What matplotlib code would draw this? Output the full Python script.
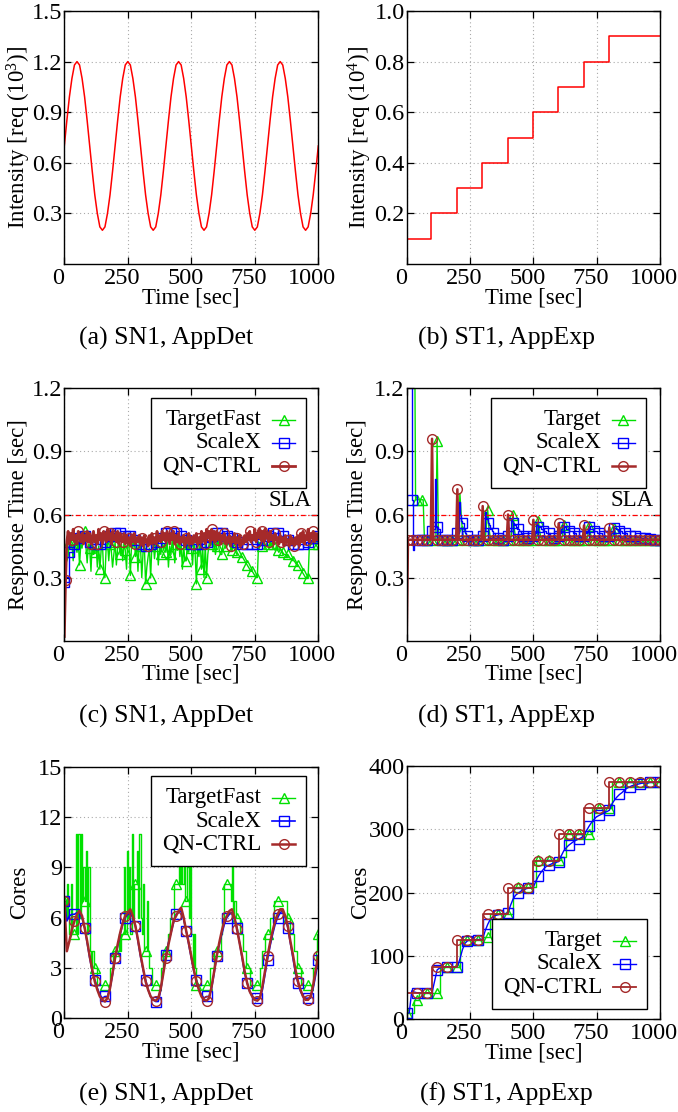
import numpy as np
import matplotlib
matplotlib.use("Agg")
import matplotlib.pyplot as plt
import matplotlib.transforms as mtransforms
from matplotlib.offsetbox import AnchoredOffsetbox, VPacker, HPacker, TextArea, DrawingArea
from matplotlib.lines import Line2D

plt.rcParams['font.family'] = ['Liberation Serif', 'DejaVu Serif']
plt.rcParams['mathtext.fontset'] = 'custom'
plt.rcParams['mathtext.rm'] = 'Liberation Serif'
plt.rcParams['mathtext.it'] = 'Liberation Serif:italic'

RED = '#ff0000'
GREEN = '#00e000'
BLUE = '#0000ff'
BROWN = '#a52a2a'

time_ticks = [0, 250, 500, 750, 1000]

# (a) SN1 intensity, one value every 10 s
intensity_sn1 = [
    0.70, 0.85, 0.99, 1.10, 1.18, 1.20, 1.18, 1.10, 0.99, 0.85, 0.70, 0.55, 0.41, 0.30, 0.22, 0.20, 0.22, 0.30, 0.41, 0.55,
    0.70, 0.85, 0.99, 1.10, 1.18, 1.20, 1.18, 1.10, 0.99, 0.85, 0.70, 0.55, 0.41, 0.30, 0.22, 0.20, 0.22, 0.30, 0.41, 0.55,
    0.70, 0.85, 0.99, 1.10, 1.18, 1.20, 1.18, 1.10, 0.99, 0.85, 0.70, 0.55, 0.41, 0.30, 0.22, 0.20, 0.22, 0.30, 0.41, 0.55,
    0.70, 0.85, 0.99, 1.10, 1.18, 1.20, 1.18, 1.10, 0.99, 0.85, 0.70, 0.55, 0.41, 0.30, 0.22, 0.20, 0.22, 0.30, 0.41, 0.55,
    0.70, 0.85, 0.99, 1.10, 1.18, 1.20, 1.18, 1.10, 0.99, 0.85, 0.70, 0.55, 0.41, 0.30, 0.22, 0.20, 0.22, 0.30, 0.41, 0.55,
    0.70,
]

# (b) ST1 intensity steps
step_times_st1 = [0, 97, 199, 299, 399, 499, 599, 699, 798, 1000]
intensity_st1 = [0.1, 0.2, 0.3, 0.4, 0.5, 0.6, 0.7, 0.8, 0.9, 0.9]

nan = float('nan')

# (c) SN1 response time, every 5 s
target_rt_sn1 = [
    nan, nan, 0.38, 0.40, 0.47, 0.44, 0.46, 0.38, 0.48, 0.45, 0.42, 0.47, 0.36, 0.46, 0.44, 0.49, 0.52, 0.45, 0.37, 0.46,
    0.44, 0.33, 0.47, 0.41, 0.42, 0.46, 0.35, 0.45, 0.34, 0.43, 0.47, 0.32, 0.30, 0.45, 0.47, 0.38, 0.46, 0.43, 0.35, 0.41,
    0.47, 0.36, 0.44, 0.48, 0.41, 0.46, 0.38, 0.47, 0.43, 0.34, 0.48, 0.45, 0.31, 0.47, 0.44, 0.49, 0.40, 0.46, 0.33, 0.47,
    0.45, 0.30, 0.42, 0.46, 0.27, 0.35, 0.40, 0.44, 0.30, 0.46, 0.48, 0.39, 0.45, 0.47, 0.36, 0.44, 0.41, 0.48, 0.43, 0.46,
    0.42, 0.47, 0.35, 0.45, 0.41, 0.48, 0.44, 0.37, 0.46, 0.43, 0.49, 0.40, 0.46, 0.34, 0.45, 0.38, 0.38, 0.47, 0.42, 0.48,
    0.44, 0.36, 0.47, 0.42, 0.27, 0.45, 0.40, 0.47, 0.34, 0.44, 0.30, 0.46, 0.30, 0.41, 0.46, 0.48, 0.46, 0.44, 0.47, 0.41,
    0.45, 0.48, 0.43, 0.41, 0.41, 0.46, 0.47, 0.44, 0.45, 0.47, 0.46, 0.48, 0.43, 0.45, 0.46, 0.44, 0.42, 0.41, 0.40, 0.40,
    0.40, 0.39, 0.38, 0.37, 0.36, 0.35, 0.34, 0.33, 0.33, 0.32, 0.31, 0.30, 0.30, 0.47, 0.46, 0.47, 0.45, 0.46, 0.44, 0.45,
    0.46, 0.44, 0.47, 0.45, 0.46, 0.44, 0.43, 0.45, 0.43, 0.42, 0.44, 0.43, 0.42, 0.41, 0.41, 0.40, 0.41, 0.40, 0.39, 0.39,
    0.38, 0.38, 0.37, 0.36, 0.36, 0.35, 0.34, 0.33, 0.32, 0.31, 0.30, 0.30, 0.30, 0.46, 0.46, 0.46, 0.46, 0.46, 0.46, 0.46,
    0.46,
]
# every 10 s
scalex_rt_sn1 = [
    0.28, 0.28, 0.42, 0.42, 0.46, 0.47, 0.49, 0.50, 0.50, 0.49,
    0.47, 0.46, 0.46, 0.46, 0.46, 0.46, 0.47, 0.48, 0.50, 0.51,
    0.51, 0.51, 0.51, 0.51, 0.50, 0.51, 0.50, 0.49, 0.48, 0.47,
    0.46, 0.46, 0.45, 0.46, 0.46, 0.46, 0.47, 0.48, 0.49, 0.50,
    0.51, 0.51, 0.51, 0.51, 0.51, 0.50, 0.50, 0.49, 0.48, 0.47,
    0.46, 0.46, 0.46, 0.46, 0.46, 0.47, 0.47, 0.48, 0.50, 0.51,
    0.51, 0.51, 0.51, 0.51, 0.50, 0.50, 0.49, 0.48, 0.47, 0.47,
    0.46, 0.46, 0.46, 0.46, 0.46, 0.46, 0.46, 0.47, 0.48, 0.49,
    0.50, 0.51, 0.51, 0.51, 0.51, 0.50, 0.50, 0.49, 0.48, 0.47,
    0.46, 0.46, 0.46, 0.46, 0.46, 0.47, 0.47, 0.48, 0.49, 0.50,
    0.50,
]
# every 5 s
qn_rt_sn1 = [
    0.02, 0.29, 0.47, 0.52, 0.46, 0.51, 0.48, 0.53, 0.47, 0.50, 0.46, 0.52, 0.49, 0.47, 0.51, 0.46, 0.50, 0.48, 0.52, 0.47,
    0.51, 0.46, 0.49, 0.52, 0.47, 0.50, 0.46, 0.53, 0.48, 0.51, 0.46, 0.52, 0.49, 0.47, 0.53, 0.48, 0.51, 0.46, 0.52, 0.48,
    0.50, 0.47, 0.52, 0.46, 0.51, 0.48, 0.47, 0.51, 0.46, 0.50, 0.47, 0.49, 0.45, 0.50, 0.47, 0.51, 0.46, 0.49, 0.47, 0.50,
    0.46, 0.49, 0.45, 0.50, 0.47, 0.48, 0.45, 0.50, 0.46, 0.51, 0.47, 0.49, 0.46, 0.52, 0.48, 0.50, 0.47, 0.52, 0.48, 0.51,
    0.47, 0.52, 0.49, 0.46, 0.51, 0.48, 0.52, 0.46, 0.50, 0.47, 0.51, 0.46, 0.49, 0.47, 0.50, 0.45, 0.49, 0.47, 0.51, 0.46,
    0.49, 0.46, 0.50, 0.47, 0.51, 0.46, 0.49, 0.47, 0.52, 0.48, 0.51, 0.46, 0.53, 0.49, 0.52, 0.47, 0.53, 0.48, 0.52, 0.47,
    0.52, 0.48, 0.51, 0.46, 0.50, 0.48, 0.51, 0.46, 0.49, 0.47, 0.50, 0.45, 0.49, 0.47, 0.51, 0.46, 0.49, 0.47, 0.50, 0.45,
    0.48, 0.46, 0.50, 0.47, 0.51, 0.48, 0.52, 0.47, 0.50, 0.48, 0.53, 0.47, 0.51, 0.49, 0.53, 0.48, 0.52, 0.47, 0.53, 0.49,
    0.51, 0.47, 0.52, 0.48, 0.50, 0.46, 0.51, 0.48, 0.49, 0.46, 0.50, 0.47, 0.49, 0.45, 0.50, 0.47, 0.48, 0.45, 0.50, 0.46,
    0.48, 0.45, 0.49, 0.46, 0.50, 0.45, 0.51, 0.47, 0.52, 0.46, 0.50, 0.48, 0.53, 0.47, 0.51, 0.49, 0.52, 0.47, 0.51, 0.48,
    0.50,
]

# (d) ST1 response time, every 5 s
target_rt_st1 = [
    nan, nan, nan, nan, nan, nan, 1.80, 0.67, 0.67, 0.67, 0.67, 0.67, 0.67, 0.67, 0.48, 0.48, 0.48, 0.48, 0.48, 0.48,
    0.48, 0.48, 0.48, 0.48, 0.95, 0.52, 0.48, 0.48, 0.48, 0.48, 0.48, 0.48, 0.48, 0.48, 0.48, 0.48, 0.48, 0.48, 0.48, 0.48,
    0.48, 0.48, 0.70, 0.60, 0.52, 0.48, 0.48, 0.48, 0.48, 0.48, 0.48, 0.48, 0.48, 0.48, 0.48, 0.48, 0.48, 0.48, 0.48, 0.48,
    0.48, 0.48, 0.48, 0.55, 0.62, 0.53, 0.49, 0.48, 0.48, 0.48, 0.48, 0.48, 0.48, 0.48, 0.48, 0.48, 0.48, 0.48, 0.48, 0.48,
    0.48, 0.48, 0.48, 0.52, 0.60, 0.53, 0.49, 0.48, 0.48, 0.48, 0.48, 0.48, 0.48, 0.48, 0.48, 0.48, 0.48, 0.48, 0.48, 0.48,
    0.48, 0.48, 0.48, 0.50, 0.57, 0.52, 0.49, 0.48, 0.48, 0.48, 0.48, 0.48, 0.48, 0.48, 0.48, 0.48, 0.48, 0.48, 0.48, 0.48,
    0.48, 0.48, 0.48, 0.50, 0.55, 0.51, 0.49, 0.48, 0.48, 0.48, 0.48, 0.48, 0.48, 0.48, 0.48, 0.48, 0.48, 0.48, 0.48, 0.48,
    0.48, 0.48, 0.48, 0.50, 0.545, 0.51, 0.49, 0.48, 0.48, 0.48, 0.48, 0.48, 0.48, 0.48, 0.48, 0.48, 0.48, 0.48, 0.48, 0.48,
    0.48, 0.48, 0.48, 0.50, 0.535, 0.51, 0.49, 0.48, 0.48, 0.48, 0.48, 0.48, 0.48, 0.48, 0.48, 0.48, 0.48, 0.48, 0.48, 0.48,
    0.48, 0.48, 0.48, 0.48, 0.48, 0.48, 0.48, 0.48, 0.48, 0.48, 0.48, 0.48, 0.48, 0.48, 0.48, 0.48, 0.48, 0.48, 0.48, 0.48,
    0.48,
]
scalex_rt_st1 = [
    nan, nan, nan, 1.80, 0.67, 0.43, 0.48, 0.48, 0.48, 0.48, 0.48, 0.48, 0.48, 0.48, 0.48, 0.48, 0.48, 0.48, 0.50, 0.52,
    0.52, 0.53, 0.77, 0.54, 0.54, 0.53, 0.50, 0.49, 0.48, 0.48, 0.48, 0.48, 0.48, 0.48, 0.48, 0.48, 0.48, 0.48, 0.49, 0.50,
    0.51, 0.66, 0.60, 0.57, 0.56, 0.53, 0.51, 0.50, 0.50, 0.49, 0.49, 0.48, 0.48, 0.48, 0.48, 0.48, 0.48, 0.48, 0.49, 0.49,
    0.50, 0.52, 0.61, 0.58, 0.56, 0.55, 0.53, 0.52, 0.51, 0.51, 0.50, 0.50, 0.49, 0.49, 0.49, 0.48, 0.48, 0.48, 0.49, 0.49,
    0.50, 0.52, 0.58, 0.57, 0.56, 0.55, 0.54, 0.53, 0.53, 0.52, 0.51, 0.51, 0.50, 0.50, 0.50, 0.49, 0.49, 0.49, 0.49, 0.49,
    0.50, 0.51, 0.56, 0.55, 0.54, 0.54, 0.53, 0.53, 0.52, 0.52, 0.51, 0.51, 0.51, 0.50, 0.50, 0.50, 0.49, 0.49, 0.49, 0.49,
    0.50, 0.51, 0.53, 0.55, 0.54, 0.54, 0.53, 0.53, 0.52, 0.52, 0.52, 0.51, 0.51, 0.51, 0.50, 0.50, 0.50, 0.50, 0.49, 0.49,
    0.50, 0.51, 0.52, 0.545, 0.54, 0.53, 0.53, 0.52, 0.52, 0.52, 0.51, 0.51, 0.51, 0.51, 0.50, 0.50, 0.50, 0.50, 0.49, 0.49,
    0.50, 0.51, 0.52, 0.54, 0.535, 0.53, 0.53, 0.52, 0.52, 0.52, 0.51, 0.51, 0.51, 0.51, 0.50, 0.50, 0.50, 0.50, 0.50, 0.50,
    0.50, 0.50, 0.495, 0.495, 0.49, 0.49, 0.49, 0.49, 0.49, 0.49, 0.485, 0.485, 0.485, 0.485, 0.485, 0.48, 0.48, 0.48, 0.48, 0.48,
    0.48,
]
qn_rt_st1 = [
    0.00, 0.48, 0.48, 0.48, 0.48, 0.48, 0.48, 0.48, 0.48, 0.48, 0.48, 0.48, 0.48, 0.48, 0.48, 0.48, 0.48, 0.48, 0.48, 0.48,
    0.96, 0.48, 0.48, 0.48, 0.48, 0.48, 0.48, 0.48, 0.48, 0.48, 0.48, 0.48, 0.48, 0.48, 0.48, 0.48, 0.48, 0.48, 0.48, 0.48,
    0.72, 0.48, 0.48, 0.48, 0.48, 0.48, 0.48, 0.48, 0.48, 0.48, 0.48, 0.48, 0.48, 0.48, 0.48, 0.48, 0.48, 0.48, 0.48, 0.48,
    0.64, 0.48, 0.48, 0.48, 0.48, 0.48, 0.48, 0.48, 0.48, 0.48, 0.48, 0.48, 0.48, 0.48, 0.48, 0.48, 0.48, 0.48, 0.48, 0.48,
    0.60, 0.48, 0.48, 0.48, 0.48, 0.48, 0.48, 0.48, 0.48, 0.48, 0.48, 0.48, 0.48, 0.48, 0.48, 0.48, 0.48, 0.48, 0.48, 0.48,
    0.575, 0.48, 0.48, 0.48, 0.48, 0.48, 0.48, 0.48, 0.48, 0.48, 0.48, 0.48, 0.48, 0.48, 0.48, 0.48, 0.48, 0.48, 0.48, 0.48,
    0.558, 0.48, 0.48, 0.48, 0.48, 0.48, 0.48, 0.48, 0.48, 0.48, 0.48, 0.48, 0.48, 0.48, 0.48, 0.48, 0.48, 0.48, 0.48, 0.48,
    0.548, 0.48, 0.48, 0.48, 0.48, 0.48, 0.48, 0.48, 0.48, 0.48, 0.48, 0.48, 0.48, 0.48, 0.48, 0.48, 0.48, 0.48, 0.48, 0.48,
    0.538, 0.48, 0.48, 0.48, 0.48, 0.48, 0.48, 0.48, 0.48, 0.48, 0.48, 0.48, 0.48, 0.48, 0.48, 0.48, 0.48, 0.48, 0.48, 0.48,
    0.48, 0.48, 0.48, 0.48, 0.48, 0.48, 0.48, 0.48, 0.48, 0.48, 0.48, 0.48, 0.48, 0.48, 0.48, 0.48, 0.48, 0.48, 0.48, 0.48,
    0.48,
]

# (e) SN1 cores; TargetFast every 5 s, ScaleX / QN-CTRL every 10 s
target_cores_sn1 = [
    7, 6, 8, 6, 5, 8, 5, 5, 5, 11, 5, 11, 6, 11, 7, 9, 7, 10, 5, 9,
    4, 3, 4, 3, 3, 3, 2, 2, 2, 2, 2, 2, 2, 2, 2, 2, 3, 3, 4, 4,
    4, 4, 4, 5, 4, 5, 5, 9, 5, 10, 6, 9, 5, 11, 6, 8, 8, 10, 6, 11,
    6, 5, 8, 4, 4, 7, 4, 3, 3, 2, 2, 2, 2, 2, 2, 2, 3, 3, 4, 4,
    4, 4, 5, 6, 6, 6, 8, 8, 8, 8, 9, 8, 10, 8, 9, 7, 7, 9, 6, 9,
    5, 3, 5, 3, 2, 2, 2, 2, 2, 2, 2, 2, 2, 2, 2, 3, 3, 3, 4, 4,
    4, 4, 4, 5, 6, 6, 8, 8, 8, 8, 8, 7, 9, 6, 7, 6, 6, 6, 5, 5,
    5, 4, 4, 3, 3, 3, 2, 2, 2, 2, 2, 2, 2, 2, 3, 3, 4, 4, 5, 5,
    5, 5, 6, 6, 6, 7, 7, 7, 7, 7, 7, 7, 7, 7, 7, 6, 6, 6, 5, 5,
    5, 4, 4, 3, 3, 3, 2, 2, 2, 2, 2, 2, 2, 2, 2, 2, 3, 3, 4, 5,
    5,
]
scalex_cores_sn1 = [
    7.0, 5.8, 6.1, 6.2, 6.2, 6.3, 6.3, 6.0, 5.4, 4.5, 3.6, 2.8, 2.3, 1.8, 1.4, 1.2, 1.3, 1.3, 1.8, 2.6,
    3.6, 4.3, 5.0, 5.6, 6.0, 6.2, 6.3, 6.0, 5.5, 4.6, 3.7, 2.9, 2.3, 1.7, 1.3, 1.1, 1.0, 1.0, 1.7, 2.8,
    3.8, 4.5, 5.1, 5.7, 6.2, 6.3, 6.4, 5.9, 5.2, 4.4, 3.6, 2.8, 2.3, 1.7, 1.4, 1.2, 1.3, 1.3, 1.8, 2.7,
    3.7, 4.4, 5.0, 5.6, 6.0, 6.2, 6.3, 6.0, 5.4, 4.5, 3.6, 2.7, 2.1, 1.6, 1.3, 1.2, 1.2, 1.2, 1.7, 2.6,
    3.5, 4.3, 5.0, 5.6, 6.0, 6.3, 6.4, 6.0, 5.4, 4.5, 3.6, 2.7, 2.1, 1.6, 1.3, 1.2, 1.2, 1.2, 1.8, 2.6,
    3.5,
]
qn_cores_sn1 = [
    7.0, 4.0, 4.6, 5.3, 5.8, 6.2, 6.4, 6.1, 5.4, 4.6, 3.7, 2.9, 2.2, 1.7, 1.3, 1.1, 1.0, 1.2, 1.8, 2.7,
    3.6, 4.4, 5.1, 5.7, 6.1, 6.3, 6.5, 6.1, 5.5, 4.7, 3.8, 3.0, 2.2, 1.7, 1.3, 1.1, 1.05, 1.2, 1.8, 2.7,
    3.6, 4.4, 5.1, 5.8, 6.1, 6.4, 6.6, 6.0, 5.2, 4.5, 3.7, 2.9, 2.2, 1.7, 1.3, 1.1, 1.05, 1.2, 1.9, 2.8,
    3.7, 4.5, 5.2, 5.8, 6.1, 6.4, 6.5, 6.0, 5.3, 4.5, 3.7, 2.8, 2.1, 1.6, 1.3, 1.1, 1.05, 1.2, 1.9, 2.8,
    3.7, 4.5, 5.2, 5.8, 6.2, 6.5, 6.5, 6.1, 5.5, 4.6, 3.8, 2.9, 2.2, 1.7, 1.3, 1.1, 1.1, 1.3, 2.0, 2.9,
    3.7,
]

# (f) ST1 cores, every 10 s
target_cores_st1 = [
    10, 10, 10, 31, 31, 42, 42, 42, 42, 42,
    42, 42, 42, 83, 83, 83, 83, 83, 83, 83,
    83, 125, 125, 125, 125, 125, 125, 125, 125, 125,
    130, 130, 130, 167, 167, 167, 167, 167, 167, 167,
    167, 167, 209, 209, 209, 209, 209, 209, 209, 209,
    209, 251, 251, 251, 251, 251, 251, 251, 251, 251,
    251, 257, 257, 292, 292, 292, 292, 292, 292, 292,
    292, 292, 292, 334, 334, 334, 334, 334, 334, 334,
    334, 375, 375, 375, 375, 375, 375, 375, 375, 375,
    375, 375, 375, 375, 375, 375, 375, 375, 375, 375,
    375,
]
scalex_cores_st1 = [
    10, 10, 45, 43, 42, 42, 42, 42, 42, 42,
    42, 60, 78, 81, 82, 83, 83, 83, 83, 83,
    83, 95, 110, 120, 124, 125, 126, 126, 126, 126,
    127, 140, 150, 158, 162, 164, 165, 166, 167, 167,
    168, 180, 190, 196, 199, 202, 205, 206, 207, 208,
    209, 218, 226, 232, 237, 241, 243, 245, 247, 248,
    249, 258, 266, 271, 275, 278, 281, 283, 285, 287,
    290, 298, 305, 311, 316, 320, 322, 324, 326, 328,
    330, 340, 346, 351, 355, 358, 362, 365, 367, 369,
    370, 371, 372, 373, 373, 373, 374, 374, 374, 375,
    375,
]
qn_cores_st1 = [
    42, 42, 42, 42, 42, 42, 42, 42, 42, 42,
    83, 83, 83, 83, 83, 83, 83, 83, 83, 83,
    125, 125, 125, 125, 125, 125, 125, 125, 125, 125,
    167, 167, 167, 167, 167, 167, 167, 167, 167, 167,
    208, 208, 208, 208, 208, 208, 208, 208, 208, 208,
    250, 250, 250, 250, 250, 250, 250, 250, 250, 250,
    292, 292, 292, 292, 292, 292, 292, 292, 292, 292,
    334, 334, 334, 334, 334, 334, 334, 334, 334, 334,
    375, 375, 375, 375, 375, 375, 375, 375, 375, 375,
    375, 375, 375, 375, 375, 375, 375, 375, 375, 375,
    375,
]

W, H = 678, 1112
fig = plt.figure(figsize=(W / 100, H / 100), dpi=100)
FS = 16.5


def box(x0, y0, x1, y1):
    return [x0 / W, 1 - y1 / H, (x1 - x0) / W, (y1 - y0) / H]


def style(ax, ymax, yticks, ylabel, ylab_x):
    ax.set_xlim(0, 1000)
    ax.set_ylim(0, ymax)
    ax.set_xticks(time_ticks)
    ax.set_yticks(yticks)
    ax.tick_params(direction='in', top=True, right=True, length=5, width=0.9,
                   labelsize=17.5, pad=3)
    ax.tick_params(axis='y', pad=1.5)
    ax.grid(True, ls=(0, (1, 2.5)), color='#aaaaaa', lw=0.8)
    ax.set_axisbelow(True)
    for s in ax.spines.values():
        s.set_linewidth(1.0)
    shift = mtransforms.ScaledTranslation(-6 / 100, 0, fig.dpi_scale_trans)
    for lab in ax.get_xticklabels():
        lab.set_transform(lab.get_transform() + shift)
    ax.set_xlabel('Time [sec]', fontsize=FS)
    ax.xaxis.set_label_coords(0.5, -0.092)
    ax.set_ylabel(ylabel, fontsize=FS)
    ax.yaxis.set_label_coords(ylab_x, 0.5)


def t5(v):
    return 5 * np.arange(len(v))


def t10(v):
    return 10 * np.arange(len(v))


def right_legend(ax, lines, loc, anchor):
    # gnuplot-like key: labels right-aligned, sample line after the text
    rows = []
    for ln in lines:
        da = DrawingArea(16, 10, 0, 0)
        da.add_artist(Line2D([0, 16], [5, 5], color=ln.get_color(), lw=ln.get_linewidth()))
        da.add_artist(Line2D([8], [5], ls='none', marker=ln.get_marker(),
                             ms=ln.get_markersize(), mfc='none', mec=ln.get_color(), mew=1.0))
        ta = TextArea(ln.get_label(), textprops=dict(fontsize=FS))
        rows.append(HPacker(children=[ta, da], align='center', pad=0, sep=8))
    pack = VPacker(children=rows, align='right', pad=0, sep=1.5)
    ab = AnchoredOffsetbox(loc=loc, child=pack, pad=0.5, borderpad=0, frameon=True,
                           bbox_to_anchor=anchor, bbox_transform=ax.transAxes,
                           prop=dict(size=FS))
    ab.patch.set_edgecolor('black')
    ab.patch.set_linewidth(1.0)
    ab.set_zorder(5)
    ax.add_artist(ab)


def sla(ax):
    ax.axhline(0.6, color=RED, ls=(0, (4, 2, 1, 2)), lw=0.9)
    tr = mtransforms.blended_transform_factory(ax.transAxes, ax.transData)
    ax.text(0.975, 0.615, 'SLA', transform=tr, ha='right', va='bottom', fontsize=FS)


mk = dict(mfc='none', mew=1.0)

# (a)
ax = fig.add_axes(box(64.3, 11, 318.3, 264))
ax.plot(t10(intensity_sn1), intensity_sn1, color=RED, lw=1.1)
style(ax, 1.5, [0.3, 0.6, 0.9, 1.2, 1.5], 'Intensity [req (10$^3$)]', -0.124)

# (b)
ax = fig.add_axes(box(406.7, 11, 660, 264))
ax.plot(step_times_st1, intensity_st1, color=RED, lw=1.1, drawstyle='steps-post')
style(ax, 1.0, [0.2, 0.4, 0.6, 0.8, 1.0], 'Intensity [req (10$^4$)]', -0.130)

# (c)
ax = fig.add_axes(box(64.3, 388.3, 318.3, 640.7))
l1, = ax.plot(t5(target_rt_sn1), target_rt_sn1, color=GREEN, lw=1.0, marker='^', ms=7,
              markevery=4, label='TargetFast', **mk)
l2, = ax.plot(t10(scalex_rt_sn1), scalex_rt_sn1, color=BLUE, lw=1.0, marker='s', ms=6.5,
              markevery=2, drawstyle='steps-post', label='ScaleX', **mk)
l3, = ax.plot(t5(qn_rt_sn1), qn_rt_sn1, color=BROWN, lw=2.0, marker='o', ms=7,
              markevery=(1, 5), label='QN-CTRL', **mk)
sla(ax)
style(ax, 1.2, [0.3, 0.6, 0.9, 1.2], 'Response Time [sec]', -0.140)
right_legend(ax, [l1, l2, l3], 'upper right', (0.952, 0.962))

# (d)
ax = fig.add_axes(box(406.7, 388.3, 660, 640.7))
l1, = ax.plot(t5(target_rt_st1), target_rt_st1, color=GREEN, lw=1.0, marker='^', ms=7,
              markevery=4, label='Target', **mk)
l2, = ax.plot(t5(scalex_rt_st1), scalex_rt_st1, color=BLUE, lw=1.0, marker='s', ms=6.5,
              markevery=4, drawstyle='steps-post', label='ScaleX', **mk)
l3, = ax.plot(t5(qn_rt_st1), qn_rt_st1, color=BROWN, lw=1.8, marker='o', ms=7,
              markevery=[1] + list(range(4, len(qn_rt_st1), 4)), label='QN-CTRL', **mk)
sla(ax)
style(ax, 1.2, [0.3, 0.6, 0.9, 1.2], 'Response Time [sec]', -0.152)
right_legend(ax, [l1, l2, l3], 'upper right', (0.945, 0.962))

# (e)
ax = fig.add_axes(box(64.3, 766.7, 318.3, 1018.3))
l1, = ax.plot(t5(target_cores_sn1), target_cores_sn1, color=GREEN, lw=1.0, marker='^', ms=7,
              markevery=8, drawstyle='steps-post', label='TargetFast', **mk)
l2, = ax.plot(t10(scalex_cores_sn1), scalex_cores_sn1, color=BLUE, lw=1.2, marker='s', ms=6.5,
              markevery=4, label='ScaleX', **mk)
l3, = ax.plot(t10(qn_cores_sn1), qn_cores_sn1, color=BROWN, lw=1.8, marker='o', ms=7,
              markevery=4, label='QN-CTRL', **mk)
style(ax, 15, [0, 3, 6, 9, 12, 15], 'Cores', -0.135)
right_legend(ax, [l1, l2, l3], 'upper right', (0.952, 0.963))

# (f)
ax = fig.add_axes(box(406.7, 766, 660, 1019.3))
l1, = ax.plot(t10(target_cores_st1), target_cores_st1, color=GREEN, lw=1.0, marker='^', ms=7,
              markevery=4, drawstyle='steps-post', label='Target', **mk)
l2, = ax.plot(t10(scalex_cores_st1), scalex_cores_st1, color=BLUE, lw=1.0, marker='s', ms=6.5,
              markevery=4, label='ScaleX', **mk)
l3, = ax.plot(t10(qn_cores_st1), qn_cores_st1, color=BROWN, lw=1.3, marker='o', ms=7,
              markevery=(4, 4), drawstyle='steps-post', label='QN-CTRL', **mk)
style(ax, 400, [0, 100, 200, 300, 400], 'Cores', -0.142)
right_legend(ax, [l1, l2, l3], 'lower right', (0.949, 0.041))

captions = ['(a) SN1, AppDet', '(b) ST1, AppExp', '(c) SN1, AppDet',
            '(d) ST1, AppExp', '(e) SN1, AppDet', '(f) ST1, AppExp']
cap_x = [166, 506]
cap_y = [338, 716, 1094]
for i, c in enumerate(captions):
    fig.text(cap_x[i % 2] / W, 1 - cap_y[i // 2] / H, c, ha='center', va='center',
             fontsize=18.5)

fig.savefig('out.png', dpi=100)
